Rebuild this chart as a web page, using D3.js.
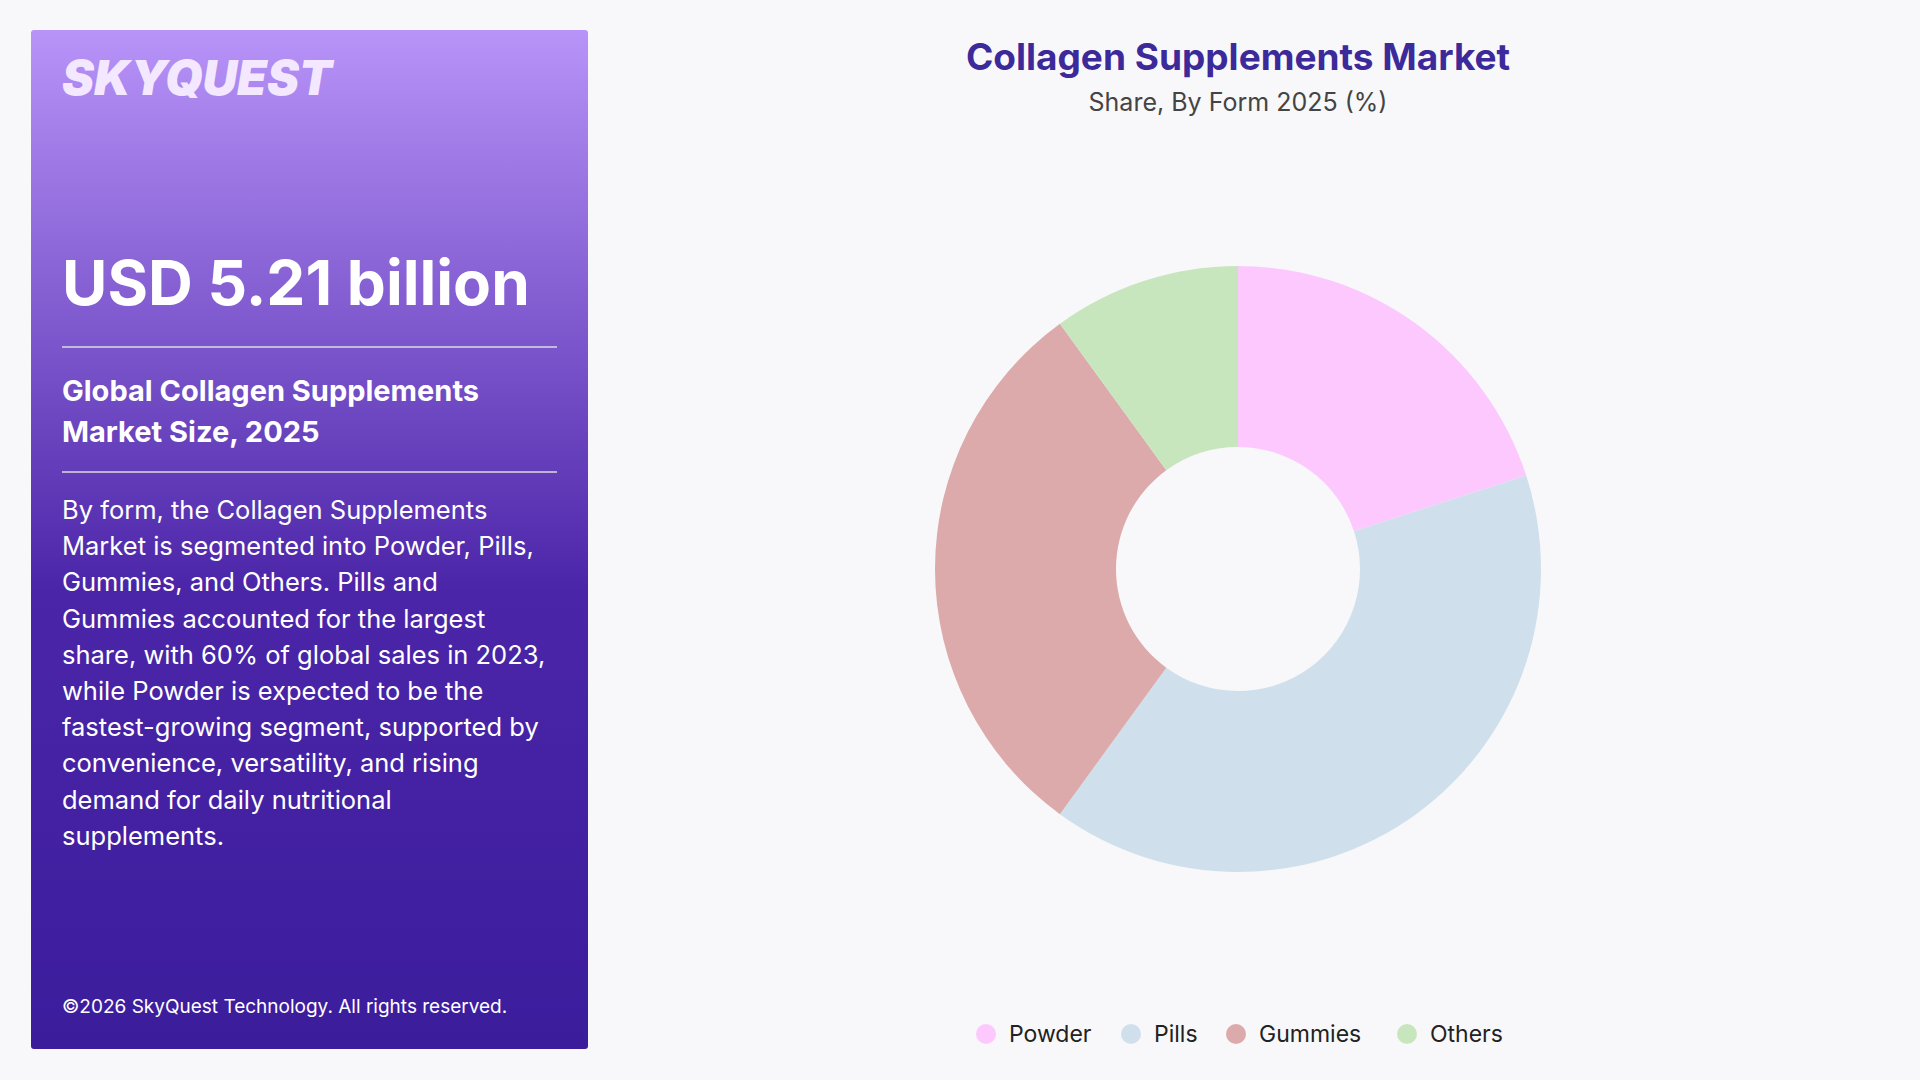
<!DOCTYPE html>
<html><head><meta charset="utf-8">
<script src="https://cdn.jsdelivr.net/npm/d3@7"></script>
<style>body{margin:0;background:#f8f8fa;font-family:Inter,"Open Sans",sans-serif}</style>
</head><body><svg id="c" width="1920" height="1080"></svg>
<script>
const categories=["Powder","Pills","Gummies","Others"];
const values=[20,40,30,10];
const colors=["#fdc8fd","#cfe0ec","#dcaaaa","#c8e6bd"];
const bodyLines=["By form, the Collagen Supplements","Market is segmented into Powder, Pills,","Gummies, and Others. Pills and","Gummies accounted for the largest","share, with 60% of global sales in 2023,","while Powder is expected to be the","fastest-growing segment, supported by","convenience, versatility, and rising","demand for daily nutritional","supplements."];
const svg=d3.select("#c");
const defs=svg.append("defs");
const g=defs.append("linearGradient").attr("id","lg").attr("x1",0).attr("y1",0).attr("x2",0).attr("y2",1);
g.append("stop").attr("offset","0%").attr("stop-color","#b893f8");
g.append("stop").attr("offset","55%").attr("stop-color","#4b25a8");
g.append("stop").attr("offset","100%").attr("stop-color","#3b1d9c");
svg.append("rect").attr("x",31).attr("y",30).attr("width",557).attr("height",1019).attr("rx",3).attr("fill","url(#lg)");
svg.append("text").attr("x",62).attr("y",95).attr("fill","#f3e8ff").attr("font-size",48).attr("font-weight",900).attr("font-style","italic").text("SKYQUEST");
svg.append("text").attr("x",62).attr("y",305).attr("fill","#fff").attr("font-size",62).attr("font-weight",700).text("USD 5.21 billion");
svg.append("line").attr("x1",62).attr("x2",557).attr("y1",347).attr("y2",347).attr("stroke","#ddd").attr("stroke-width",1.5);
svg.append("text").attr("x",62).attr("y",401).attr("fill","#fff").attr("font-size",29).attr("font-weight",700).text("Global Collagen Supplements");
svg.append("text").attr("x",62).attr("y",442).attr("fill","#fff").attr("font-size",29).attr("font-weight",700).text("Market Size, 2025");
svg.append("line").attr("x1",62).attr("x2",557).attr("y1",472).attr("y2",472).attr("stroke","#ddd").attr("stroke-width",1.5);
svg.append("g").selectAll("text").data(bodyLines).join("text").attr("x",62).attr("y",(d,i)=>519+i*36.2).attr("fill","#fff").attr("font-size",25.5).text(d=>d);
svg.append("text").attr("x",62).attr("y",1013).attr("fill","#fff").attr("font-size",19).text("©2026 SkyQuest Technology. All rights reserved.");
svg.append("text").attr("x",1238).attr("y",70).attr("text-anchor","middle").attr("fill","#3d2a9a").attr("font-size",37).attr("font-weight",700).text("Collagen Supplements Market");
svg.append("text").attr("x",1238).attr("y",111).attr("text-anchor","middle").attr("fill","#444").attr("font-size",25).text("Share, By Form 2025 (%)");
const pie=d3.pie().sort(null)(values);
const arc=d3.arc().innerRadius(122).outerRadius(303);
svg.append("g").attr("transform","translate(1238,569)").selectAll("path").data(pie).join("path").attr("d",arc).attr("fill",(d,i)=>colors[i]);
const lx=[986,1131,1236,1407];
const lg=svg.append("g").selectAll("g").data(categories).join("g").attr("transform",(d,i)=>`translate(${lx[i]},1034)`);
lg.append("circle").attr("r",10).attr("fill",(d,i)=>colors[i]);
lg.append("text").attr("x",23).attr("y",8).attr("font-size",23).attr("fill","#222").text(d=>d);
</script></body></html>
